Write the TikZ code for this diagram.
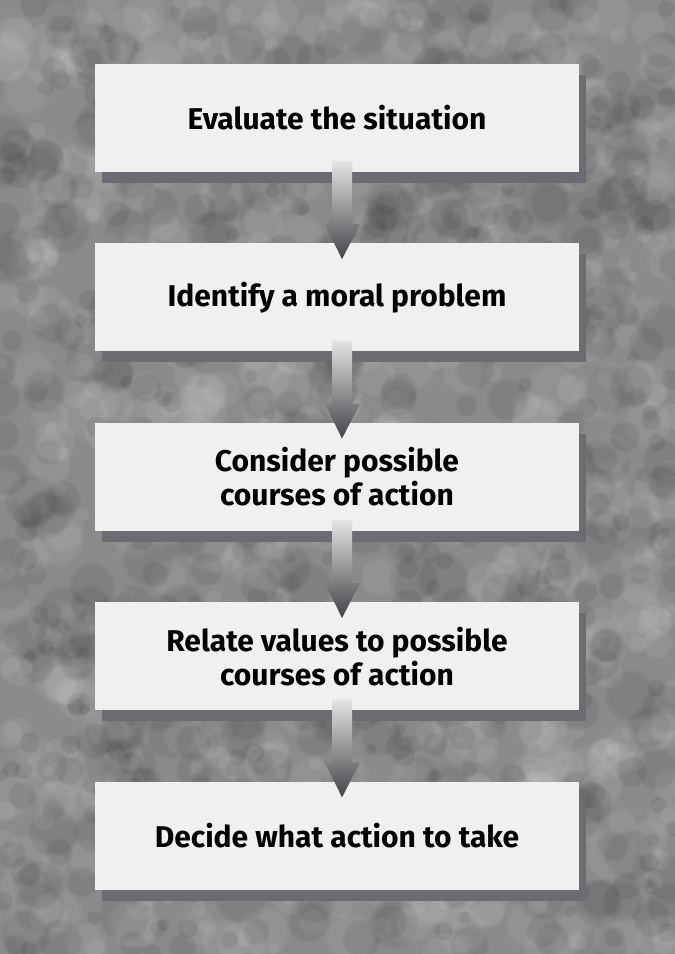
\documentclass[tikz,border=0pt]{standalone}
\usepackage{fontspec}
\usepackage{tikz}
\usetikzlibrary{positioning,shadows,fadings}
\newfontfamily\stepfont{Fira Sans}
\definecolor{stonegray}{HTML}{8A8A8A}
\definecolor{boxfill}{HTML}{F0F0F0}
\definecolor{shadowgray}{HTML}{6B6C71}
\definecolor{arrowtop}{HTML}{E4E4E6}
\definecolor{arrowmid}{HTML}{A4A4A8}
\definecolor{arrowbot}{HTML}{444448}
\tikzset{
  stepbox/.style={rectangle, fill=boxfill, minimum width=484pt, minimum height=108pt,
    inner sep=0pt, align=center, font=\stepfont\bfseries\fontsize{30}{34}\selectfont,
    general shadow={shadow xshift=7pt, shadow yshift=-11pt, fill=shadowgray}},
  blot/.style={opacity=#1, path fading=circle with fuzzy edge 20 percent},
}
% shaded down arrow from one box into the next
\newcommand\flowarrow[2]{%
  \shade[top color=arrowtop, middle color=arrowmid, bottom color=arrowbot]
    ([xshift=-5pt,yshift=11pt]#1.south) -- ([xshift=15pt,yshift=11pt]#1.south)
    -- ([xshift=15pt,yshift=19pt]#2.north) -- ([xshift=23pt,yshift=19pt]#2.north)
    -- ([xshift=5pt,yshift=-16pt]#2.north) -- ([xshift=-12pt,yshift=19pt]#2.north)
    -- ([xshift=-5pt,yshift=19pt]#2.north) -- cycle;}

\begin{document}
\begin{tikzpicture}[x=1pt, y=-1pt]
			\useasboundingbox (0,0) rectangle (675,954);
			% stone background
			\begin{scope}
			\clip (0,0) rectangle (675,954);
			\fill[stonegray] (0,0) rectangle (675,954);
			\pgfmathsetseed{42}
			\foreach \i in {1,...,700}{
				\pgfmathsetmacro\bx{675*rnd}
				\pgfmathsetmacro\by{954*rnd}
				\pgfmathsetmacro\br{6+22*rnd}
				\fill[white, blot=0.07] (\bx,\by) circle (\br);
			}
			\foreach \i in {1,...,700}{
				\pgfmathsetmacro\bx{675*rnd}
				\pgfmathsetmacro\by{954*rnd}
				\pgfmathsetmacro\br{6+22*rnd}
				\fill[black, blot=0.07] (\bx,\by) circle (\br);
			}
			\end{scope}
			% steps
			\node[stepbox] (evaluate) at (337,118) {Evaluate the situation};
			\node[stepbox, below=71pt of evaluate] (identify) {Identify a moral problem};
			\node[stepbox, below=71pt of identify] (consider) {Consider possible\\courses of action};
			\node[stepbox, below=71pt of consider] (relate) {Relate values to possible\\courses of action};
			\node[stepbox, below=71pt of relate] (decide) {Decide what action to take};
			\flowarrow{evaluate}{identify}
			\flowarrow{identify}{consider}
			\flowarrow{consider}{relate}
			\flowarrow{relate}{decide}
\end{tikzpicture}
\end{document}
